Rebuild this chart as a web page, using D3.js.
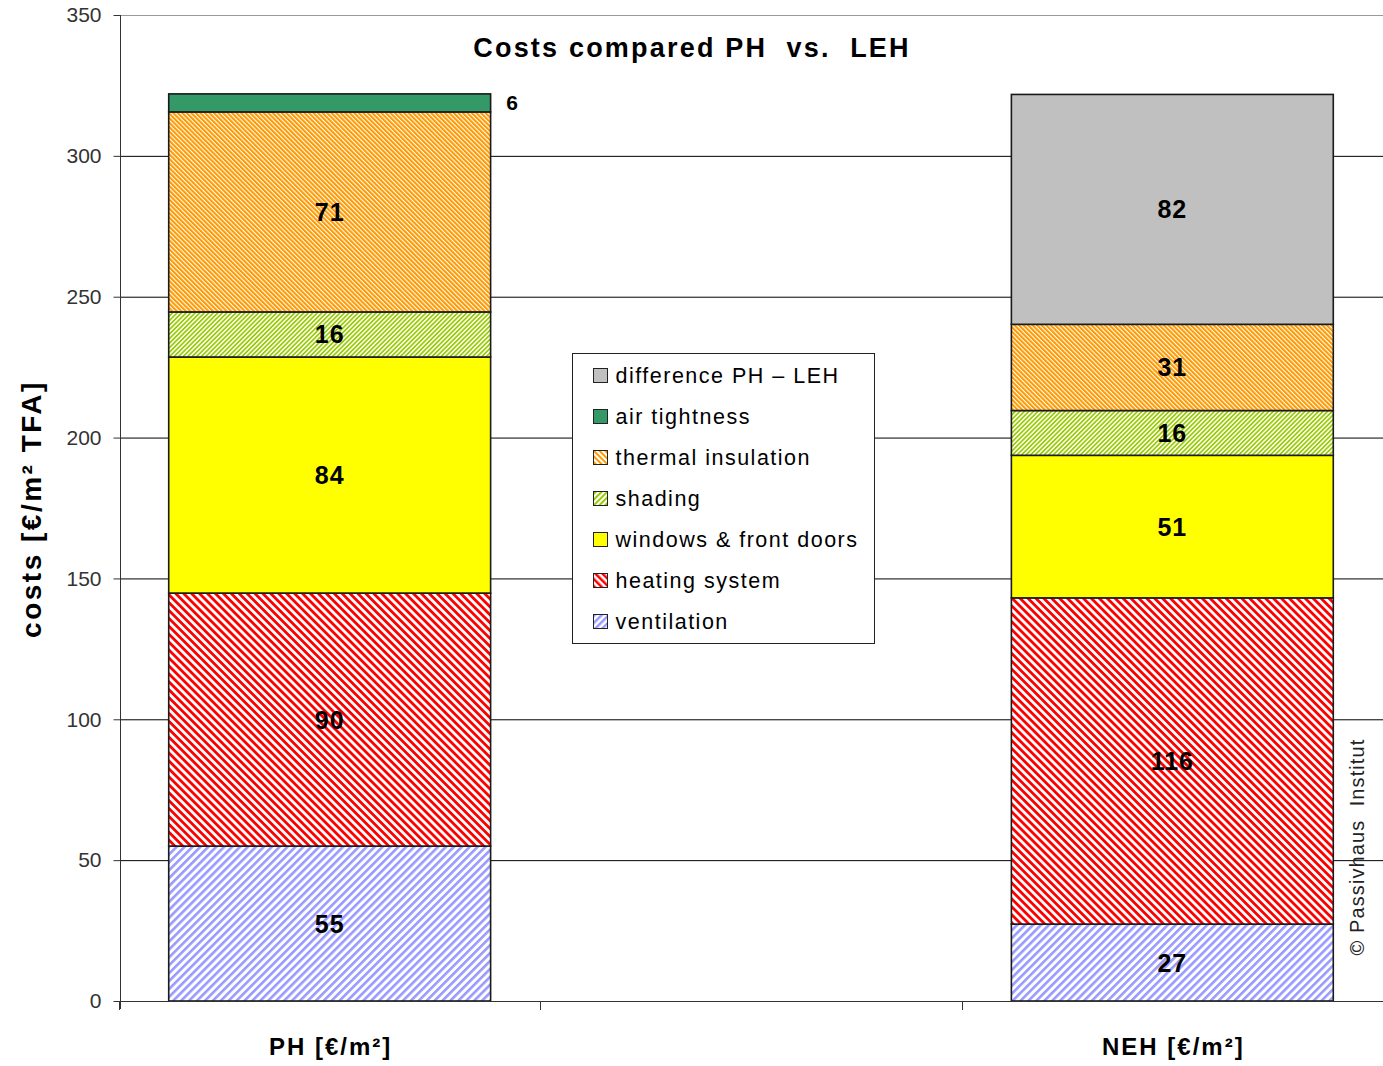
<!DOCTYPE html>
<html>
<head>
<meta charset="utf-8">
<script src="https://cdn.jsdelivr.net/npm/d3@7"></script>
<style>
  body { margin: 0; background: #fff; }
  svg { font-family: Arial, "Liberation Sans", sans-serif; }
</style>
</head>
<body>
<div id="container"></div>
<script>
// ---------------------------- DATA ----------------------------//
const categories = ["PH [€/m²]", "", "NEH [€/m²]"];
const seriesNames = ["ventilation", "heating system", "windows & front doors", "shading",
                     "thermal insulation", "air tightness", "difference PH – LEH"];
const phValues  = [55, 89.8, 83.8, 16, 71, 6.4, 0];
const nehValues = [27.3, 115.8, 50.6, 15.9, 30.6, 0, 81.6];
const yTicks = [0, 50, 100, 150, 200, 250, 300, 350];

const width = 1383;
const height = 1066;

const svg = d3.select("div#container").append("svg")
    .attr("width", width)
    .attr("height", height);

// ---------------------------- PATTERNS ----------------------------//
const defs = svg.append("defs");
function hatch(id, color, period, lineW, angle) {
  const p = defs.append("pattern")
      .attr("id", id)
      .attr("patternUnits", "userSpaceOnUse")
      .attr("width", period).attr("height", period)
      .attr("patternTransform", "rotate(" + angle + ")");
  p.append("rect").attr("width", period).attr("height", period).attr("fill", "#fff");
  p.append("rect").attr("width", lineW).attr("height", period).attr("fill", color);
}
hatch("p-vent", "#9999ff", 5.6, 2.6, 45);
hatch("p-heat", "#ff0000", 5.6, 2.8, -45);
hatch("p-shade", "#99cc00", 3.2, 1.7, 45);
hatch("p-therm", "#ff9900", 3.2, 2.1, -45);
// legend swatches show bigger stripes
hatch("l-vent", "#9999ff", 5, 2.5, 45);
hatch("l-heat", "#ff0000", 5, 2.5, -45);
hatch("l-shade", "#99cc00", 4, 2, 45);
hatch("l-therm", "#ff9900", 4, 2, -45);

const fills = {
  "ventilation": "url(#p-vent)",
  "heating system": "url(#p-heat)",
  "windows & front doors": "#ffff00",
  "shading": "url(#p-shade)",
  "thermal insulation": "url(#p-therm)",
  "air tightness": "#339966",
  "difference PH – LEH": "#c0c0c0"
};
const legendFills = Object.assign({}, fills, {
  "ventilation": "url(#l-vent)",
  "heating system": "url(#l-heat)",
  "shading": "url(#l-shade)",
  "thermal insulation": "url(#l-therm)"
});

// ---------------------------- SCALES ----------------------------//
const xScale = d3.scaleBand()
    .domain(categories)
    .range([119, 1383])
    .paddingInner(0.236)
    .paddingOuter(0.118);

const yScale = d3.scaleLinear()
    .domain([0, 350])
    .range([1001, 15]);

// table for stacking
const table = [
  Object.assign({ cat: categories[0] }, Object.fromEntries(seriesNames.map((s, i) => [s, phValues[i]]))),
  Object.assign({ cat: categories[2] }, Object.fromEntries(seriesNames.map((s, i) => [s, nehValues[i]])))
];
const stacked = d3.stack().keys(seriesNames)(table);

// ---------------------------- GRID ----------------------------//
svg.append("g")
  .selectAll("line")
  .data(yTicks.filter(d => d > 0))
  .enter().append("line")
    .attr("x1", 120).attr("x2", width)
    .attr("y1", d => yScale(d) + 0.5).attr("y2", d => yScale(d) + 0.5)
    .attr("stroke", d => d === 350 ? "#999" : "#000")
    .attr("stroke-width", 1);

// ---------------------------- BARS ----------------------------//
const layer = svg.append("g")
  .selectAll("g")
  .data(stacked)
  .enter().append("g")
    .attr("fill", d => fills[d.key]);

layer.selectAll("rect")
  .data(d => d.filter(s => s[1] - s[0] > 0))
  .enter().append("rect")
    .attr("x", d => xScale(d.data.cat))
    .attr("width", xScale.bandwidth())
    .attr("y", d => yScale(d[1]))
    .attr("height", d => yScale(d[0]) - yScale(d[1]))
    .attr("stroke", "#1a1a1a")
    .attr("stroke-width", 1.6);

// value labels
const labels = [];
stacked.forEach(function(s) {
  s.forEach(function(d) {
    const v = d[1] - d[0];
    if (v > 0) labels.push({ cat: d.data.cat, v: v, mid: (d[0] + d[1]) / 2, key: s.key });
  });
});
svg.append("g")
  .selectAll("text")
  .data(labels)
  .enter().append("text")
    .attr("x", d => d.v < 10 ? xScale(d.cat) + xScale.bandwidth() + 22
                            : xScale(d.cat) + xScale.bandwidth() / 2)
    .attr("y", d => yScale(d.mid))
    .attr("dy", "0.36em")
    .attr("text-anchor", "middle")
    .attr("font-weight", "bold")
    .attr("font-size", d => d.v < 10 ? 21 : 25)
    .attr("letter-spacing", 1)
    .attr("fill", "#000")
    .text(d => Math.round(d.v));

// ---------------------------- AXES ----------------------------//
const yaxis = d3.axisLeft(yScale)
    .tickValues(yTicks)
    .tickSize(7)
    .tickPadding(12);
const gy = svg.append("g")
    .attr("transform", "translate(120.5,0)")
    .call(yaxis);
gy.select(".domain").attr("stroke", "#333").attr("d", "M0,15V1009");
gy.selectAll(".tick line").attr("stroke", "#333");
gy.selectAll(".tick text")
    .attr("font-size", 21)
    .attr("fill", "#333")
    .attr("font-family", "Arial, 'Liberation Sans', sans-serif");

// x axis: baseline and boundary ticks
const bounds = categories.map(c => xScale(c) - xScale.step() * xScale.paddingOuter())
    .concat([xScale.range()[1]]);
const gx = svg.append("g");
gx.append("line")
    .attr("x1", 120).attr("x2", width)
    .attr("y1", yScale(0) + 0.5).attr("y2", yScale(0) + 0.5)
    .attr("stroke", "#333").attr("stroke-width", 1.2);
gx.selectAll(".bt")
  .data(bounds)
  .enter().append("line")
    .attr("x1", d => Math.round(d) + 0.5).attr("x2", d => Math.round(d) + 0.5)
    .attr("y1", yScale(0)).attr("y2", yScale(0) + 9)
    .attr("stroke", "#333");
gx.selectAll(".cl")
  .data(categories.filter(c => c !== ""))
  .enter().append("text")
    .attr("x", d => xScale(d) + xScale.bandwidth() / 2 + 1)
    .attr("y", 1055)
    .attr("text-anchor", "middle")
    .attr("font-size", 24)
    .attr("font-weight", "bold")
    .attr("letter-spacing", 2)
    .text(d => d);

// ---------------------------- TITLES ----------------------------//
svg.append("text")
    .attr("x", 692).attr("y", 57)
    .attr("text-anchor", "middle")
    .attr("font-size", 27)
    .attr("font-weight", "bold")
    .attr("letter-spacing", 2.2)
    .attr("xml:space", "preserve")
    .text("Costs compared PH  vs.  LEH");

svg.append("text")
    .attr("transform", "translate(41,509) rotate(-90)")
    .attr("text-anchor", "middle")
    .attr("font-size", 28)
    .attr("font-weight", "bold")
    .attr("letter-spacing", 2.5)
    .text("costs [€/m² TFA]");

svg.append("text")
    .attr("transform", "translate(1364,847) rotate(-90)")
    .attr("text-anchor", "middle")
    .attr("font-size", 20)
    .attr("fill", "#222")
    .attr("letter-spacing", 1.1)
    .attr("xml:space", "preserve")
    .text("© Passivhaus  Institut");

// ---------------------------- LEGEND ----------------------------//
const legend = svg.append("g").attr("transform", "translate(572.5,353.5)");
legend.append("rect")
    .attr("width", 302).attr("height", 290)
    .attr("fill", "#fff").attr("stroke", "#222").attr("stroke-width", 1);
const items = legend.selectAll(".li")
  .data(seriesNames.slice().reverse())
  .enter().append("g")
    .attr("transform", (d, i) => "translate(21," + (22 + i * 41) + ")");
items.append("rect")
    .attr("x", 0).attr("y", -7)
    .attr("width", 14).attr("height", 14)
    .attr("fill", d => legendFills[d])
    .attr("stroke", "#222").attr("stroke-width", 1);
items.append("text")
    .attr("x", 22).attr("y", 0)
    .attr("dy", "0.36em")
    .attr("font-size", 21.5)
    .attr("letter-spacing", 1.5)
    .text(d => d);
</script>
</body>
</html>
